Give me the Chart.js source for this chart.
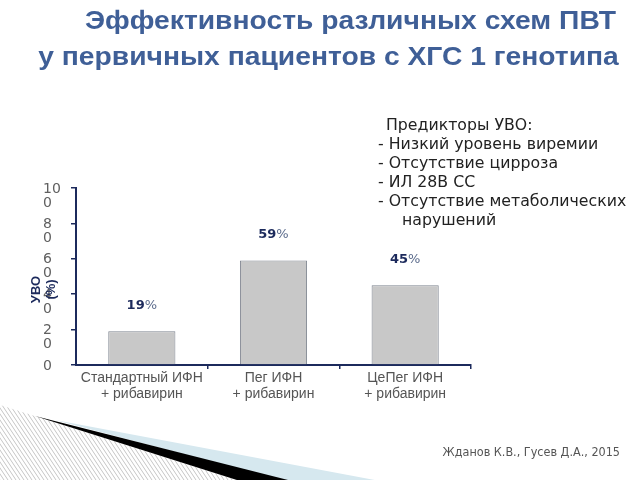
<!DOCTYPE html>
<html>
<head>
<meta charset="utf-8">
<script src="https://cdn.jsdelivr.net/npm/chart.js@4/dist/chart.umd.min.js"></script>
<style>
  html, body { margin: 0; padding: 0; background: #fff; }
  #wrap { position: relative; width: 640px; height: 480px; overflow: hidden; }
  #c { position: absolute; left: 0; top: 0; }
  .title { position: absolute; right: 21px; font-family: "Liberation Sans", Arial, sans-serif; font-weight: bold; font-size: 25px; color: #3f5f97; white-space: nowrap; line-height: 36px; transform: scaleX(1.13); transform-origin: right center; }
  .pred { position: absolute; font-family: "DejaVu Sans", Verdana, sans-serif; font-size: 15px; color: #222; line-height: 19px; white-space: pre; transform: scaleX(1.05); transform-origin: left center; }
  #cite { position: absolute; right: 20px; top: 444px; font-family: "DejaVu Sans Condensed", "DejaVu Sans", sans-serif; font-size: 12.5px; color: #555; white-space: nowrap; }
</style>
</head>
<body>
<div id="wrap">
  <canvas id="c" width="640" height="480"></canvas>
  <div class="title" style="top:2px; right:24px;">Эффективность различных схем ПВТ</div>
  <div class="title" style="top:38px;">у первичных пациентов с ХГС 1 генотипа</div>
  <div class="pred" style="left:386px; top:116px;">Предикторы УВО:</div>
  <div class="pred" style="left:378px; top:135px;">- Низкий уровень виремии</div>
  <div class="pred" style="left:378px; top:154px;">- Отсутствие цирроза</div>
  <div class="pred" style="left:378px; top:173px;">- ИЛ 28B СС</div>
  <div class="pred" style="left:378px; top:192px;">- Отсутствие метаболических</div>
  <div class="pred" style="left:402px; top:211px;">нарушений</div>
  <div id="cite">Жданов К.В., Гусев Д.А., 2015</div>
</div>
<script>
const categories = [
  ['Стандартный ИФН', '+ рибавирин'],
  ['Пег ИФН', '+ рибавирин'],
  ['ЦеПег ИФН', '+ рибавирин']
];
const svrValues = [19, 59, 45];
const valueLabels = ['19', '59', '45'];
const yTickValues = [0, 20, 40, 60, 80, 100];
const yAxisTitle = ['УВО', '(%)'];

const NAVY = '#1c2a5c';

const decorPlugin = {
  id: 'decor',
  beforeDraw(chart) {
    const ctx = chart.ctx;
    ctx.save();
    ctx.fillStyle = '#ffffff';
    ctx.fillRect(0, 0, chart.width, chart.height);
    const p = document.createElement('canvas');
    p.width = 4; p.height = 6;
    const pc = p.getContext('2d');
    pc.fillStyle = '#ffffff'; pc.fillRect(0, 0, 4, 6);
    pc.strokeStyle = '#c6c6c6'; pc.lineWidth = 1;
    [-4, 0, 4].forEach(dx => { pc.beginPath(); pc.moveTo(dx, 0); pc.lineTo(dx + 4, 6); pc.stroke(); });
    ctx.fillStyle = ctx.createPattern(p, 'repeat');
    ctx.beginPath();
    ctx.moveTo(0, 405); ctx.lineTo(240, 481); ctx.lineTo(0, 481); ctx.closePath();
    ctx.fill();
    ctx.fillStyle = '#d6e8ef';
    ctx.beginPath();
    ctx.moveTo(55, 420); ctx.lineTo(380, 481); ctx.lineTo(285, 481); ctx.closePath();
    ctx.fill();
    ctx.fillStyle = '#000000';
    ctx.beginPath();
    ctx.moveTo(35, 416); ctx.lineTo(292, 481); ctx.lineTo(240, 481); ctx.closePath();
    ctx.fill();
    ctx.restore();
  }
};

const overlayPlugin = {
  id: 'overlay',
  afterDatasetsDraw(chart) {
    const ctx = chart.ctx;
    const meta = chart.getDatasetMeta(0);
    ctx.save();
    ctx.textBaseline = 'middle';
    meta.data.forEach((bar, i) => {
      const num = valueLabels[i];
      ctx.font = 'bold 13px "DejaVu Sans", Verdana, sans-serif';
      const w1 = ctx.measureText(num).width;
      ctx.font = '13px "DejaVu Sans", Verdana, sans-serif';
      const w2 = ctx.measureText('%').width;
      const x0 = bar.x - (w1 + w2) / 2;
      const y = bar.y - 26;
      ctx.textAlign = 'left';
      ctx.fillStyle = NAVY;
      ctx.font = 'bold 13px "DejaVu Sans", Verdana, sans-serif';
      ctx.fillText(num, x0, y);
      ctx.fillStyle = '#5b6b8c';
      ctx.font = '13px "DejaVu Sans", Verdana, sans-serif';
      ctx.fillText('%', x0 + w1, y);
    });
    const yScale = chart.scales.y;
    const cy = (yScale.top + yScale.bottom) / 2 + 13;
    ctx.fillStyle = NAVY;
    ctx.font = 'bold 13px "Liberation Sans", Arial, sans-serif';
    ctx.textAlign = 'center';
    ctx.translate(0, cy);
    ctx.rotate(-Math.PI / 2);
    ctx.fillText(yAxisTitle[0], 0, 36);
    ctx.fillText(yAxisTitle[1], 0, 51);
    ctx.restore();
  }
};

new Chart(document.getElementById('c'), {
  type: 'bar',
  data: {
    labels: categories,
    datasets: [{
      data: svrValues,
      backgroundColor: '#c8c8c8',
      borderColor: '#7f8590',
      borderWidth: 1,
      barPercentage: 0.51,
      categoryPercentage: 1.0
    }]
  },
  options: {
    responsive: false,
    animation: false,
    devicePixelRatio: 1,
    layout: { padding: { left: 43, top: 188, right: 169, bottom: 60 } },
    plugins: { legend: { display: false }, tooltip: { enabled: false }, title: { display: false } },
    scales: {
      x: {
        offset: true,
        afterFit(s) { s.height = 55; },
        border: { color: NAVY, width: 2 },
        grid: {
          drawOnChartArea: false, drawTicks: true, tickLength: 4, lineWidth: 1.5,
          color: (c) => (c.index === 0 || c.index === categories.length) ? 'rgba(0,0,0,0)' : NAVY
        },
        ticks: {
          color: '#555555',
          padding: 2,
          font: { family: '"Liberation Sans", Arial, sans-serif', size: 14, lineHeight: 1.08 }
        }
      },
      y: {
        min: 0, max: 100,
        afterFit(s) { s.width = 33; },
        afterBuildTicks(s) { s.ticks = yTickValues.map(v => ({ value: v })); },
        border: { color: NAVY, width: 2 },
        grid: { drawOnChartArea: false, drawTicks: true, tickLength: 5, color: NAVY, lineWidth: 1.5 },
        ticks: {
          color: '#606060',
          crossAlign: 'far',
          labelOffset: 8,
          padding: 0,
          font: { family: '"DejaVu Sans", Verdana, sans-serif', size: 14, lineHeight: 1.0 },
          callback(v) {
            const s = String(v);
            return v === 0 ? ['0', ''] : [s.slice(0, -1), s.slice(-1)];
          }
        }
      }
    }
  },
  plugins: [decorPlugin, overlayPlugin]
});
</script>
</body>
</html>
